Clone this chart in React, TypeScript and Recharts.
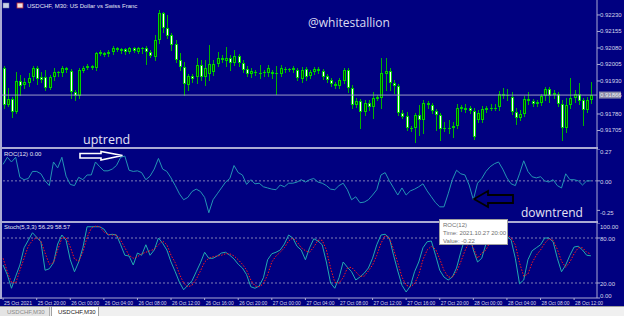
import React from 'react';
import { ComposedChart, Bar, Line, XAxis, YAxis, ReferenceLine } from 'recharts';

// USDCHF M30 candles, prices in points (1e-5)
const OPEN = [
  91989, 91821, 91848, 91789, 91930, 91912, 91921, 91948, 91989, 91948,
  91948, 91898, 91948, 91971, 91966, 91989, 91975, 91880, 91862, 91975,
  91989, 91998, 91989, 92052, 92057, 92052, 92061, 92080, 92066, 92075,
  92061, 92080, 92061, 92080, 92080, 92061, 92039, 92116, 92239, 92171,
  92139, 92098, 92025, 91993, 91912, 91953, 91948, 92003, 91948, 91962,
  91971, 92007, 92034, 92021, 92034, 92012, 92043, 92012, 91984, 91962,
  91971, 91966, 91966, 91966, 91971, 91966, 91962, 91984, 91984, 91980,
  91980, 91939, 91984, 91953, 91971, 91984, 91975, 91953, 91934, 91916,
  91907, 91930, 91980, 91898, 91821, 91839, 91789, 91830, 91812, 91848,
  91853, 91962, 91975, 91921, 91907, 91784, 91771, 91716, 91716, 91775,
  91753, 91830, 91821, 91793, 91775, 91716, 91712, 91716, 91725, 91812,
  91807, 91807, 91793, 91753, 91753, 91807, 91805, 91807, 91812, 91871,
  91866, 91857, 91789, 91762, 91780, 91848, 91839, 91825, 91830, 91862,
  91893, 91866, 91871, 91825, 91716, 91821, 91853, 91871, 91843, 91798,
  91843,
];
const HIGH = [
  91998, 91898, 91857, 91971, 91957, 91943, 91966, 91998, 91998, 91971,
  91980, 91957, 91989, 91975, 91998, 91993, 91984, 91889, 91989, 91998,
  92007, 92003, 92061, 92071, 92061, 92071, 92089, 92084, 92080, 92080,
  92084, 92084, 92084, 92084, 92089, 92071, 92139, 92253, 92243, 92230,
  92148, 92116, 92057, 92016, 91962, 91962, 92034, 92025, 92025, 92093,
  92025, 92061, 92048, 92084, 92048, 92071, 92052, 92025, 91998, 91989,
  91980, 92003, 91980, 92003, 91980, 91998, 92003, 91993, 91989, 91998,
  91989, 91993, 91993, 91980, 91993, 91993, 91984, 91962, 91943, 91925,
  91943, 91989, 91989, 91912, 91853, 91848, 91843, 91843, 91880, 91866,
  92034, 92034, 91989, 91934, 91916, 91798, 91789, 91725, 91784, 91821,
  91843, 91839, 91830, 91803, 91784, 91743, 91753, 91743, 91825, 91821,
  91825, 91816, 91807, 91798, 91816, 91816, 91825, 91825, 91884, 91898,
  91893, 91880, 91807, 91798, 91862, 91880, 91848, 91843, 91871, 91903,
  91903, 91889, 91880, 91843, 91853, 91943, 91889, 91921, 91853, 91857,
  91925,
];
const LOW = [
  91807, 91816, 91766, 91784, 91866, 91898, 91907, 91934, 91916, 91925,
  91889, 91893, 91934, 91953, 91953, 91971, 91853, 91843, 91853, 91971,
  91984, 91984, 91980, 92048, 92043, 92043, 92052, 92066, 92057, 92052,
  92057, 92061, 92057, 92057, 92007, 92039, 92025, 92102, 92152, 92125,
  92071, 92016, 91980, 91866, 91889, 91925, 91921, 91934, 91912, 91934,
  91957, 91998, 92016, 91998, 91980, 92003, 91998, 91971, 91953, 91948,
  91957, 91943, 91953, 91953, 91943, 91871, 91953, 91971, 91975, 91971,
  91934, 91925, 91934, 91943, 91962, 91966, 91939, 91925, 91907, 91898,
  91898, 91921, 91880, 91807, 91812, 91716, 91775, 91798, 91762, 91843,
  91807, 91889, 91889, 91875, 91775, 91762, 91707, 91702, 91653, 91684,
  91693, 91807, 91784, 91707, 91662, 91702, 91693, 91675, 91716, 91793,
  91789, 91784, 91666, 91743, 91743, 91789, 91798, 91798, 91798, 91853,
  91843, 91780, 91734, 91753, 91771, 91825, 91816, 91816, 91821, 91843,
  91834, 91853, 91816, 91662, 91698, 91807, 91834, 91825, 91730, 91789,
  91830,
];
const CLOSE = [
  91821, 91848, 91789, 91930, 91907, 91925, 91943, 91989, 91939, 91934,
  91898, 91948, 91971, 91966, 91989, 91980, 91880, 91862, 91980, 91989,
  91998, 91989, 92057, 92061, 92048, 92061, 92080, 92071, 92075, 92061,
  92080, 92066, 92080, 92075, 92061, 92043, 92116, 92239, 92171, 92134,
  92093, 92025, 91993, 91916, 91953, 91939, 92003, 91948, 91989, 92007,
  92007, 92034, 92025, 92034, 92012, 92043, 92012, 91980, 91962, 91975,
  91966, 91964, 91971, 91989, 91962, 91962, 91989, 91980, 91980, 91989,
  91943, 91980, 91948, 91971, 91984, 91975, 91948, 91934, 91916, 91907,
  91934, 91980, 91898, 91821, 91839, 91789, 91830, 91812, 91853, 91857,
  91966, 91975, 91921, 91907, 91784, 91766, 91716, 91712, 91775, 91753,
  91830, 91821, 91793, 91775, 91712, 91712, 91716, 91725, 91807, 91803,
  91798, 91793, 91675, 91784, 91803, 91798, 91807, 91805, 91871, 91862,
  91864, 91789, 91762, 91780, 91848, 91839, 91825, 91834, 91862, 91893,
  91862, 91875, 91825, 91716, 91821, 91853, 91871, 91839, 91798, 91843,
  91866,
];

const ROC = [
  0.14, 0.2, 0.16, 0.2, 0.03, 0.01, 0.02, 0.08, 0.08, 0.06,
  0.0, -0.04, 0.16, 0.11, 0.2, 0.04, -0.03, -0.04, 0.03, 0.01,
  0.05, 0.05, 0.16, 0.12, 0.085, 0.085, 0.1, 0.13, 0.2, 0.21,
  0.09, 0.08, 0.085, 0.07, 0.01, 0.04, 0.1, 0.19, 0.1, 0.08,
  0.025, -0.04, -0.11, -0.16, -0.14, -0.09, -0.07, -0.09, -0.14, -0.27,
  -0.16, -0.11, -0.06, -0.01, 0.02, 0.13, 0.07, 0.05, -0.03, 0.01,
  -0.025, -0.02, -0.05, -0.06, -0.07, -0.075, -0.035, -0.05, -0.02, -0.02,
  -0.01, 0.01, -0.01, 0.01, 0.02, -0.01, -0.02, -0.04, -0.07, -0.075,
  -0.04, -0.02, -0.075, -0.16, -0.135, -0.185, -0.18, -0.16, -0.12, -0.075,
  0.05, 0.07, 0.0, -0.06, -0.12, -0.06, -0.12, -0.085, -0.07, -0.05,
  -0.025, -0.085, -0.135, -0.185, -0.22, -0.22, -0.11, 0.01, 0.09, 0.06,
  0.05, -0.035, -0.16, -0.02, 0.02, 0.08, 0.12, 0.145, 0.16, 0.1,
  0.025, -0.025, -0.04, 0.06, 0.17, 0.08, 0.035, 0.025, 0.035, 0.0,
  -0.01, 0.01, -0.04, -0.06, 0.06, 0.01, 0.01, 0.0, -0.035, 0.0,
  0.0,
];

const STOCH_MAIN = [
  44, 31, 13, 29, 44, 67, 77, 87, 81, 75,
  37, 39, 47, 72, 84, 77, 51, 35, 48, 67,
  95, 95, 95, 95, 92, 84, 85, 84, 71, 57,
  56, 44, 60, 57, 71, 57, 64, 80, 73, 64,
  48, 35, 21, 11, 17, 23, 35, 47, 61, 53,
  53, 56, 60, 61, 57, 52, 45, 40, 31, 15,
  13, 16, 27, 51, 59, 61, 64, 72, 84, 80,
  69, 64, 51, 67, 79, 76, 71, 48, 20, 13,
  27, 48, 41, 35, 24, 28, 33, 40, 53, 71,
  84, 85, 80, 57, 36, 17, 8, 16, 35, 48,
  67, 75, 76, 57, 37, 28, 24, 28, 40, 61,
  80, 88, 64, 48, 53, 72, 87, 93, 93, 88,
  83, 77, 53, 19, 24, 51, 63, 67, 71, 80,
  80, 75, 53, 35, 44, 57, 68, 69, 64, 57,
  56.29,
];
const STOCH_SIGNAL = [
  53, 35, 21, 20, 37, 53, 69, 77, 81, 76,
  60, 45, 47, 64, 80, 81, 68, 52, 49, 61,
  81, 93, 96, 95, 88, 85, 84, 84, 77, 67,
  57, 53, 55, 59, 61, 63, 65, 71, 76, 71,
  57, 47, 32, 20, 15, 17, 25, 36, 48, 53,
  55, 56, 57, 59, 59, 56, 51, 45, 37, 24,
  16, 15, 19, 31, 48, 56, 61, 67, 76, 80,
  75, 67, 63, 61, 68, 77, 77, 64, 40, 21,
  20, 27, 40, 41, 35, 29, 29, 36, 44, 57,
  73, 83, 80, 65, 47, 28, 17, 15, 19, 31,
  51, 64, 69, 65, 52, 37, 28, 28, 35, 48,
  63, 75, 67, 53, 60, 64, 75, 85, 91, 91,
  85, 80, 71, 47, 29, 32, 47, 57, 64, 73,
  79, 77, 65, 49, 41, 48, 59, 67, 67, 61,
  58.57,
];

const DATE_LABELS = [
  '25 Oct 2021', '25 Oct 20:00', '26 Oct 00:00', '26 Oct 04:00', '26 Oct 08:00',
  '26 Oct 12:00', '26 Oct 16:00', '26 Oct 20:00', '27 Oct 00:00', '27 Oct 04:00',
  '27 Oct 08:00', '27 Oct 12:00', '27 Oct 16:00', '27 Oct 20:00', '28 Oct 00:00',
  '28 Oct 04:00', '28 Oct 08:00', '28 Oct 12:00',
];
const BARS_PER_LABEL = 8;

const PRICE_TICKS = [92230, 92155, 92080, 92005, 91930, 91780, 91705];
const PRICE_DOMAIN = [91630, 92298];
const BID = 91866;
const ROC_TICKS = [0.27, 0, -0.25];
const ROC_DOMAIN = [-0.34, 0.27];
const STOCH_TICKS = [100, 80, 20, 0];

const NAVY = '#000080';
const FRAME = '#aaaad4';
const AXIS_TEXT = '#d6d6ea';
const WICK = '#00b400';
const EDGE = '#00d200';
const SANS = 'Liberation Sans, Arial, sans-serif';

const data = OPEN.map((o, i) => ({
  i,
  o,
  h: HIGH[i],
  l: LOW[i],
  c: CLOSE[i],
  roc: ROC[i],
  k: STOCH_MAIN[i],
  d: STOCH_SIGNAL[i],
}));

const dateTicks = DATE_LABELS.map((_, n) => n * BARS_PER_LABEL);

function Candle(props: any) {
  const { x, y, width, height, payload } = props;
  if (!payload) return null;
  const { o, h, l, c } = payload;
  const span = h - l;
  const k = span > 0 ? Math.abs(height) / span : 0;
  const py = (v: number) => y + (h - v) * k;
  const cx = Math.round(x + width / 2) + 0.5;
  const top = Math.round(py(Math.max(o, c)));
  const bot = Math.round(py(Math.min(o, c)));
  const bull = c >= o;
  return (
    <g>
      <line x1={cx} x2={cx} y1={Math.round(py(h))} y2={Math.round(py(l)) + 1} stroke={WICK} />
      {bot - top < 2 ? (
        <line x1={cx - 1.5} x2={cx + 1.5} y1={top + 0.5} y2={top + 0.5} stroke={EDGE} />
      ) : (
        <rect x={cx - 1} y={top + 0.5} width={2} height={bot - top - 1} fill={bull ? '#004a00' : '#ffffff'} stroke={EDGE} />
      )}
    </g>
  );
}

function PriceTick({ x, y, payload }: any) {
  return (
    <text x={x} y={y + 2} fill={AXIS_TEXT} fontSize={6} fontFamily={SANS}>
      {(payload.value / 1e5).toFixed(5)}
    </text>
  );
}

function RocTick({ x, y, payload }: any) {
  const v = payload.value;
  return (
    <text x={x} y={y + (v === 0 ? 2.7 : 4.6)} fill={AXIS_TEXT} fontSize={6} fontFamily={SANS}>
      {v.toFixed(2)}
    </text>
  );
}

function StochTick({ x, y, payload }: any) {
  const v = payload.value;
  const dy = v === 100 ? 5.7 : v === 0 ? 0 : 3;
  return (
    <text x={x} y={y + dy} fill={AXIS_TEXT} fontSize={6} fontFamily={SANS}>
      {v.toFixed(2)}
    </text>
  );
}

function DateTick({ x, y, payload }: any) {
  return (
    <text
      x={x + 1} y={y + 5} fill={AXIS_TEXT} fontSize={6} fontFamily={SANS}
      textLength={28} lengthAdjust="spacingAndGlyphs"
    >
      {DATE_LABELS[payload.value / BARS_PER_LABEL]}
    </text>
  );
}

function BidLabel({ viewBox }: any) {
  if (!viewBox) return null;
  const x = viewBox.x + viewBox.width + 2;
  return (
    <g>
      <rect x={x} y={viewBox.y - 3.5} width={22} height={7} fill="#8a8aa8" />
      <text x={x + 1} y={viewBox.y + 2} fill="#f0f0f0" fontSize={6} fontFamily={SANS}>
        {(BID / 1e5).toFixed(5)}
      </text>
    </g>
  );
}

const xAxisProps = {
  dataKey: 'i',
  type: 'category' as const,
  scale: 'band' as const,
  padding: { left: 0, right: 4 },
};

export default function App() {
  return (
    <div
      style={{
        position: 'fixed', left: 0, top: 0, width: 624, height: 316,
        background: NAVY, overflow: 'hidden', fontFamily: SANS,
      }}
    >
      {/* price panel */}
      <div style={{ position: 'absolute', left: 0, top: 0 }}>
        <ComposedChart width={624} height={147} data={data} margin={{ top: 0, right: 0, bottom: 0, left: 1 }}>
          <XAxis {...xAxisProps} hide />
          <YAxis
            orientation="right" width={27} type="number" domain={PRICE_DOMAIN} allowDataOverflow
            ticks={PRICE_TICKS} interval={0} tick={<PriceTick />} tickSize={3} tickMargin={0}
            tickLine={{ stroke: FRAME }} axisLine={{ stroke: FRAME }}
          />
          <ReferenceLine y={BID} stroke="#9a9ac6" label={<BidLabel />} />
          <Bar dataKey={(d: any) => [d.l, d.h]} shape={<Candle />} barSize={3} isAnimationActive={false} />
        </ComposedChart>
      </div>

      {/* ROC panel */}
      <div style={{ position: 'absolute', left: 0, top: 149 }}>
        <ComposedChart width={624} height={72} data={data} margin={{ top: 0, right: 0, bottom: 0, left: 1 }}>
          <XAxis {...xAxisProps} hide />
          <YAxis
            orientation="right" width={27} type="number" domain={ROC_DOMAIN} allowDataOverflow
            ticks={ROC_TICKS} interval={0} tick={<RocTick />} tickSize={3} tickMargin={0}
            tickLine={{ stroke: FRAME }} axisLine={{ stroke: FRAME }}
          />
          <ReferenceLine y={0} stroke="#8080b4" strokeDasharray="2 2" />
          <Line dataKey="roc" stroke="#2494b4" strokeWidth={1} dot={false} type="linear" isAnimationActive={false} />
        </ComposedChart>
      </div>

      {/* Stochastic panel */}
      <div style={{ position: 'absolute', left: 0, top: 223 }}>
        <ComposedChart width={624} height={83} data={data} margin={{ top: 0, right: 0, bottom: 0, left: 1 }}>
          <XAxis
            {...xAxisProps} height={8} ticks={dateTicks} interval={0} tick={<DateTick />}
            tickSize={2} tickMargin={0} tickLine={{ stroke: FRAME }} axisLine={{ stroke: FRAME }}
          />
          <YAxis
            orientation="right" width={27} type="number" domain={[0, 100]}
            ticks={STOCH_TICKS} interval={0} tick={<StochTick />} tickSize={3} tickMargin={0}
            tickLine={{ stroke: FRAME }} axisLine={{ stroke: FRAME }}
          />
          <ReferenceLine y={80} stroke="#8080b4" strokeDasharray="2 2" />
          <ReferenceLine y={20} stroke="#8080b4" strokeDasharray="2 2" />
          <Line dataKey="k" stroke="#22aab0" strokeWidth={1} dot={false} type="linear" isAnimationActive={false} />
          <Line dataKey="d" stroke="#ff1818" strokeWidth={1} strokeDasharray="1.5 1.5" dot={false} type="linear" isAnimationActive={false} />
        </ComposedChart>
      </div>

      {/* panel frames */}
      <div style={{ position: 'absolute', left: 0, top: 0, width: 2, height: 299, background: FRAME }} />
      <div style={{ position: 'absolute', left: 0, top: 147, width: 598, height: 2, background: FRAME }} />
      <div style={{ position: 'absolute', left: 0, top: 221, width: 598, height: 2, background: FRAME }} />

      {/* texts and drawings over the chart */}
      <svg width={624} height={316} style={{ position: 'absolute', left: 0, top: 0, pointerEvents: 'none' }}>
        <rect x={3} y={3} width={6} height={5} fill="#c8d0e8" stroke="#7080a0" strokeWidth={0.5} />
        <rect x={17} y={3} width={6} height={5} fill="#f0e0e0" stroke="#c03030" strokeWidth={0.8} />
        <text x={27} y={8} fill="#e6e6f4" fontSize={6} fontFamily={SANS}>USDCHF, M30:  US Dollar vs Swiss Franc</text>
        <text x={308} y={27} fill="#dcdcf2" fontSize={12} fontFamily="Open Sans, sans-serif">@whitestallion</text>
        <text x={83} y={144} fill="#e4e4f4" fontSize={12.5} fontFamily="Open Sans, sans-serif">uptrend</text>
        <text x={521} y={217} fill="#e4e4f4" fontSize={12} fontFamily="Open Sans, sans-serif">downtrend</text>
        <text x={4} y={156} fill="#e6e6f4" fontSize={6} fontFamily={SANS}>ROC(12) 0.00</text>
        <text x={4} y={229} fill="#e6e6f4" fontSize={6} fontFamily={SANS}>Stoch(5,3,3) 56.29 58.57</text>
        <polygon
          points="80,153.5 101,153.5 101,151.5 122.5,155.5 101,160 101,158 80,158"
          fill={NAVY} stroke="#ffffff" strokeWidth={1.6}
        />
        <polygon
          points="474,199 488,191 488,195 513,195 513,203 488,203 488,207"
          fill={NAVY} stroke="#000000" strokeWidth={1.8}
        />
      </svg>

      {/* hover box */}
      <div
        style={{
          position: 'absolute', left: 439, top: 219, width: 69, height: 26, boxSizing: 'border-box',
          background: '#ffffff', border: '1px solid #a0a0a0', color: '#707070',
          fontSize: 6, lineHeight: '8px', padding: '1px 3px', whiteSpace: 'nowrap',
        }}
      >
        <div>ROC(12)</div>
        <div>Time: 2021.10.27 20:00</div>
        <div>Value: -0.22</div>
      </div>

      {/* tab strip */}
      <div style={{ position: 'absolute', left: 0, top: 306, width: 624, height: 10, background: '#f0f0f0', borderTop: '1px solid #a0a0a0' }} />
      <div
        style={{
          position: 'absolute', left: 0, top: 307, width: 50, height: 9, background: '#e4e4e4',
          borderRight: '1px solid #b0b0b0', color: '#8a8a8a', fontSize: 6, lineHeight: '8px',
          paddingLeft: 7, boxSizing: 'border-box', paddingTop: 1,
        }}
      >
        USDCHF,M30
      </div>
      <div
        style={{
          position: 'absolute', left: 51, top: 306, width: 48, height: 10, background: '#ffffff',
          border: '1px solid #a0a0a0', borderBottom: 'none', color: '#202020', fontSize: 6, lineHeight: '8px',
          paddingLeft: 6, boxSizing: 'border-box', paddingTop: 1,
        }}
      >
        USDCHF,M30
      </div>
    </div>
  );
}
